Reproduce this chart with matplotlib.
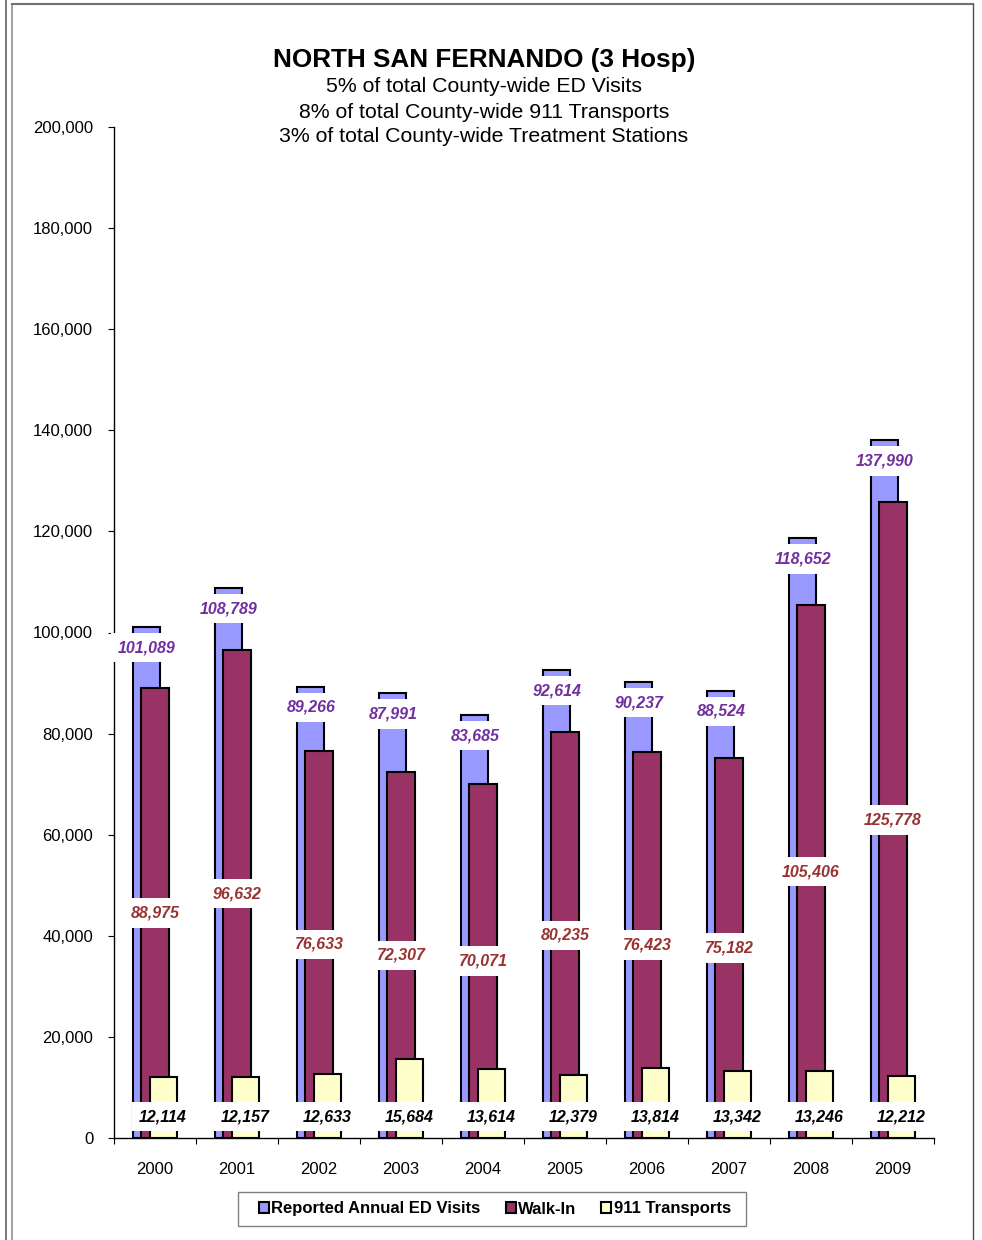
import matplotlib
matplotlib.use("Agg")
import matplotlib.pyplot as plt
import numpy as np
from matplotlib.lines import Line2D
from matplotlib.patches import Patch, Rectangle

plt.rcParams["font.family"] = ["Liberation Sans", "DejaVu Sans"]

years = ["2000", "2001", "2002", "2003", "2004", "2005", "2006", "2007", "2008", "2009"]
ed_visits = [101089, 108789, 89266, 87991, 83685, 92614, 90237, 88524, 118652, 137990]
walk_in = [88975, 96632, 76633, 72307, 70071, 80235, 76423, 75182, 105406, 125778]
transports = [12114, 12157, 12633, 15684, 13614, 12379, 13814, 13342, 13246, 12212]

series_names = ["Reported Annual ED Visits", "Walk-In", "911 Transports"]
colors = ["#9999FF", "#993366", "#FFFFCC"]
label_colors = ["#7030A0", "#993333", "#000000"]

W, H = 982, 1240
fig = plt.figure(figsize=(W / 100, H / 100), dpi=100)
ax = fig.add_axes([114 / W, 1 - 1138 / H, 820 / W, 1011 / H])

x = np.arange(len(years))
bw = 0.33
off = 0.098

for i, (vals, c) in enumerate(zip([ed_visits, walk_in, transports], colors)):
    ax.bar(x + (i - 1) * off, vals, width=bw, color=c, edgecolor="black",
           linewidth=1.5, zorder=2 + i)

box = dict(boxstyle="square,pad=0.45", facecolor="white", edgecolor="none")
lab_kw = dict(ha="center", va="center", fontsize=11.5, fontweight="bold",
              fontstyle="italic", bbox=box, zorder=10, clip_on=False)
for xi, v in zip(x, ed_visits):
    ax.text(xi - off, v - 4100, f"{v:,}", color=label_colors[0], **lab_kw)
for xi, v in zip(x, walk_in):
    ax.text(xi, v / 2, f"{v:,}", color=label_colors[1], **lab_kw)
for xi, v in zip(x, transports):
    ax.text(xi + off, 4200, f"{v:,}", color=label_colors[2], **lab_kw)

ax.set_xlim(-0.5, len(years) - 0.5)
ax.set_ylim(0, 200000)
ax.set_yticks(np.arange(0, 200001, 20000))
ax.set_yticklabels([f"{t:,}" for t in range(0, 200001, 20000)], fontsize=12)
ax.set_xticks(x)
ax.set_xticklabels(years, fontsize=12)
ax.set_xticks(np.arange(-0.5, len(years)), minor=True)
ax.tick_params(axis="x", which="major", length=0, pad=17)
ax.tick_params(axis="x", which="minor", length=4, width=0.8, direction="out")
ax.tick_params(axis="y", length=4, width=0.8, direction="out", pad=11)
for s in ["top", "right"]:
    ax.spines[s].set_visible(False)
for s in ["left", "bottom"]:
    ax.spines[s].set_linewidth(1.0)

fig.text(484 / W, 1 - 60 / H, "NORTH SAN FERNANDO (3 Hosp)", ha="center", va="center",
         fontsize=18.8, fontweight="bold")
subs = ["5% of total County-wide ED Visits",
        "8% of total County-wide 911 Transports",
        "3% of total County-wide Treatment Stations"]
for k, s in enumerate(subs):
    fig.text(484 / W, 1 - (87 + 25 * k) / H, s, ha="center", va="center", fontsize=15.3)

# legend frame drawn separately so the side padding matches
fig.add_artist(Rectangle((238 / W, 1 - 1226 / H), 508 / W, 34 / H, transform=fig.transFigure,
                         facecolor="white", edgecolor="#808080", linewidth=1.0))
handles = [Patch(facecolor=c, edgecolor="black", linewidth=1.5) for c in colors]
leg = fig.legend(handles, series_names, loc="center", bbox_to_anchor=(495 / W, 1 - 1209 / H),
                 ncol=3, frameon=False, handlelength=0.6, handleheight=0.6,
                 handletextpad=0.15, columnspacing=1.5, borderpad=0.3,
                 prop={"weight": "bold", "size": 12})

# outer frame lines
fig.add_artist(Line2D([6 / W, 6 / W], [0, 1], color="#606060", lw=1.2))
fig.add_artist(Line2D([12 / W, 12 / W], [0, 1 - 4 / H], color="#909090", lw=1.2))
fig.add_artist(Line2D([12 / W, 973 / W], [1 - 4 / H, 1 - 4 / H], color="#707070", lw=1.5))
fig.add_artist(Line2D([973 / W, 973 / W], [0, 1 - 4 / H], color="#505050", lw=1.0))

fig.savefig("out.png", dpi=100)
